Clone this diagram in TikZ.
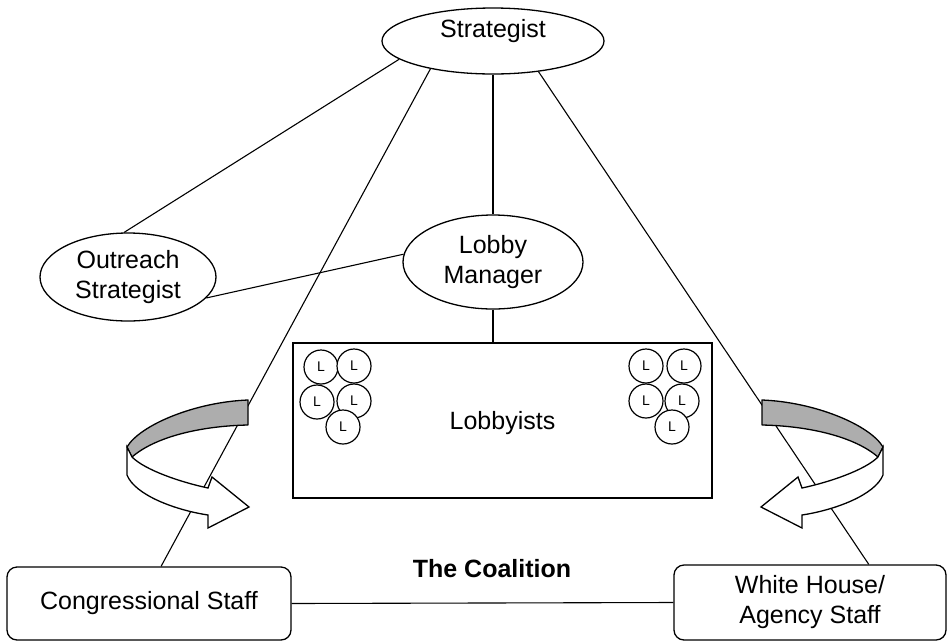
\documentclass[tikz,border=0pt]{standalone}
\usepackage{fontspec}
\setmainfont{Liberation Sans}
\usetikzlibrary{shapes.geometric}
\begin{document}
\begin{tikzpicture}[x=1pt,y=-1pt,
  txt/.style={font=\fontsize{25}{30}\selectfont},
  ell/.style={ellipse,draw,line width=1.3pt,inner sep=0pt,fill=white,align=center,txt},
  sbox/.style={rectangle,rounded corners=10pt,draw,line width=1.3pt,inner sep=0pt,align=center,fill=white,txt},
  conn/.style={line width=1.1pt},
  lc/.style={circle,draw,fill=white,line width=1.2pt,minimum size=34pt,inner sep=0pt,font=\fontsize{14}{14}\selectfont},
  band/.style={draw,line width=1.3pt,fill=black!32,line join=round},
  front/.style={draw,line width=1.3pt,fill=white,line join=miter}]
\useasboundingbox (0,0) rectangle (948,641);

% nodes
\node[ell,minimum width=222pt,minimum height=66pt,
      label={[txt,yshift=10pt]center:Strategist}] (strat) at (493,41) {};
\node[ell,minimum width=176pt,minimum height=88pt] (out) at (128,277) {Outreach\\Strategist};
\node[ell,minimum width=180pt,minimum height=94pt] (lm) at (493,262) {Lobby\\Manager};
\node[sbox,rounded corners=0pt,minimum width=419pt,minimum height=155pt,
      label={[txt,yshift=-3pt]center:Lobbyists}] (lob) at (502.5,420.5) {};
\node[sbox,minimum width=284pt,minimum height=73pt] (cong) at (149,603.5) {Congressional Staff};
\node[sbox,minimum width=272pt,minimum height=75pt] (wh) at (810,602.5) {White House/\\Agency Staff};
\node[font=\bfseries\fontsize{25}{30}\selectfont] (coal) at (492,569) {The Coalition};

% lobbyist circles, left group
\node[lc] (l1) at (321,367) {L};
\node[lc] (l2) at (354,366) {L};
\node[lc] (l3) at (317,402) {L};
\node[lc] (l4) at (354,401) {L};
\node[lc] (l5) at (343,427) {L};
% right group
\node[lc] (r1) at (646,366) {L};
\node[lc] (r2) at (684,366) {L};
\node[lc] (r3) at (646,401) {L};
\node[lc] (r4) at (682,401) {L};
\node[lc] (r5) at (672,427) {L};

% connectors
\draw[conn] (strat.191) -- (out.95);
\draw[conn] (out.-15) -- (lm.175);
\draw[conn] (strat.south) -- (lm.north);
\draw[conn] (lm.south) -- (lob.north -| lm.south);
\draw[conn] (strat.204.5) -- (cong.72.2);
\draw[conn] (strat.-34.7) -- (wh.33.3);
\draw[conn] (cong.east) -- (wh.west);

% left curved arrow
\path[band] (248,400) -- (248,425) .. controls (200,426) and (155,437) .. (132,457)
  -- (127,447) .. controls (140,425) and (195,402) .. (248,400) -- cycle;
\path[front] (127,447) -- (127,475) .. controls (135,495) and (175,510) .. (208,515)
  -- (208,528) -- (249,507) -- (212,477) -- (208,488)
  .. controls (180,482) and (145,470) .. (132,457) -- cycle;

% right curved arrow (mirror)
\begin{scope}[xshift=1010pt,xscale=-1]
\path[band] (248,400) -- (248,425) .. controls (200,426) and (155,437) .. (132,457)
  -- (127,447) .. controls (140,425) and (195,402) .. (248,400) -- cycle;
\path[front] (127,447) -- (127,475) .. controls (135,495) and (175,510) .. (208,515)
  -- (208,528) -- (249,507) -- (212,477) -- (208,488)
  .. controls (180,482) and (145,470) .. (132,457) -- cycle;
\end{scope}
\end{tikzpicture}
\end{document}
